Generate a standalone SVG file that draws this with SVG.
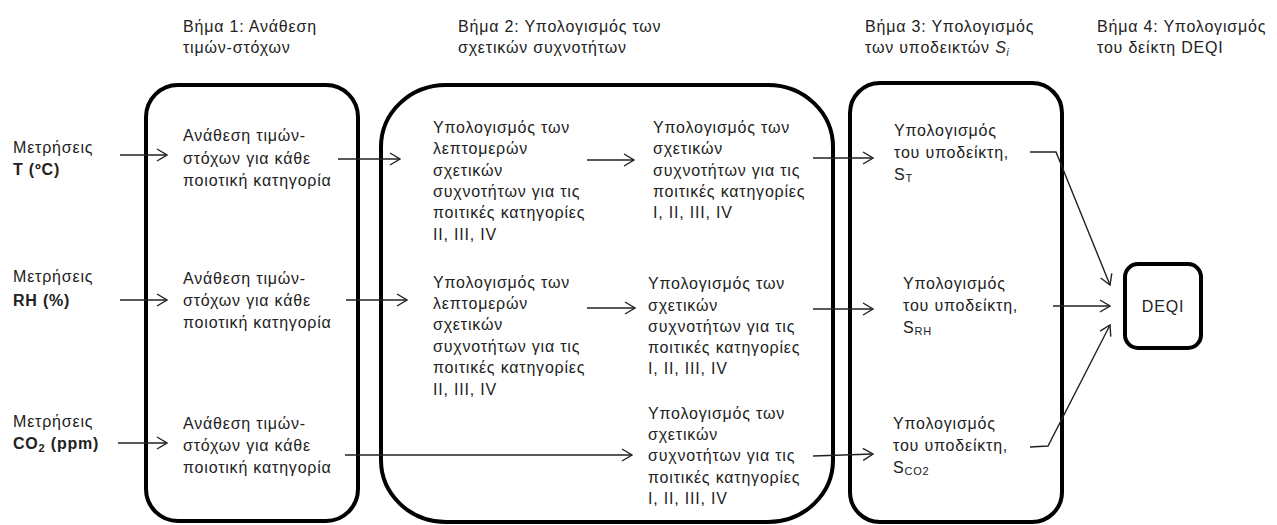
<svg xmlns="http://www.w3.org/2000/svg" width="1277" height="525" viewBox="0 0 1277 525">
<defs>
<marker id="arr" viewBox="-12 -7 13 14" refX="0" refY="0" markerWidth="13" markerHeight="14" markerUnits="userSpaceOnUse" orient="auto">
<path d="M-10,-6 L0,0 L-10,6" fill="none" stroke="#222" stroke-width="1.4"/>
</marker>
<style>
text{font-family:"Liberation Sans",Arial,sans-serif;font-size:16px;letter-spacing:0.8px;fill:#222}
.b{font-weight:bold}
.box{fill:none;stroke:#000;stroke-width:4}
.c{fill:none;stroke:#222;stroke-width:1.4}
.a{marker-end:url(#arr)}
</style>
</defs>
<rect width="1277" height="525" fill="#fff"/>

<g id="headers">
<text x="183" y="32">Βήμα 1: Ανάθεση</text>
<text x="183" y="53">τιμών-στόχων</text>
<text x="458" y="32">Βήμα 2: Υπολογισμός των</text>
<text x="458" y="53">σχετικών συχνοτήτων</text>
<text x="865" y="32">Βήμα 3: Υπολογισμός</text>
<text x="865" y="53">των υποδεικτών <tspan font-style="italic">S</tspan><tspan font-style="italic" font-size="10" dy="3">i</tspan></text>
<text x="1097" y="32">Βήμα 4: Υπολογισμός</text>
<text x="1097" y="53">του δείκτη DEQI</text>
</g>

<g id="inputs">
<text x="13" y="153">Μετρήσεις</text>
<text x="13" y="175" class="b">T (ºC)</text>
<text x="13" y="282">Μετρήσεις</text>
<text x="13" y="306" class="b">RH (%)</text>
<text x="13" y="427">Μετρήσεις</text>
<text x="13" y="449" class="b">CO<tspan font-size="11" dy="3">2</tspan><tspan dy="-3"> (ppm)</tspan></text>
</g>

<g id="step1">
<rect class="box" x="146" y="85" width="212" height="436" rx="32" ry="32"/>
<text x="183" y="141">Ανάθεση τιμών-</text>
<text x="183" y="164">στόχων για κάθε</text>
<text x="183" y="186">ποιοτική κατηγορία</text>
<text x="183" y="284">Ανάθεση τιμών-</text>
<text x="183" y="306">στόχων για κάθε</text>
<text x="183" y="328">ποιοτική κατηγορία</text>
<text x="183" y="429">Ανάθεση τιμών-</text>
<text x="183" y="451">στόχων για κάθε</text>
<text x="183" y="473">ποιοτική κατηγορία</text>
</g>

<g id="step2">
<rect class="box" x="381" y="85" width="452" height="437" rx="65" ry="62"/>
<text x="433" y="133">Υπολογισμός των</text>
<text x="433" y="154">λεπτομερών</text>
<text x="433" y="176">σχετικών</text>
<text x="433" y="197">συχνοτήτων για τις</text>
<text x="433" y="218">ποιτικές κατηγορίες</text>
<text x="433" y="240">II, III, IV</text>
<text x="653" y="133">Υπολογισμός των</text>
<text x="653" y="154">σχετικών</text>
<text x="653" y="176">συχνοτήτων για τις</text>
<text x="653" y="197">ποιτικές κατηγορίες</text>
<text x="653" y="218">I, II, III, IV</text>
<text x="433" y="288">Υπολογισμός των</text>
<text x="433" y="309">λεπτομερών</text>
<text x="433" y="330">σχετικών</text>
<text x="433" y="352">συχνοτήτων για τις</text>
<text x="433" y="373">ποιτικές κατηγορίες</text>
<text x="433" y="395">II, III, IV</text>
<text x="648" y="289">Υπολογισμός των</text>
<text x="648" y="311">σχετικών</text>
<text x="648" y="332">συχνοτήτων για τις</text>
<text x="648" y="353">ποιτικές κατηγορίες</text>
<text x="648" y="374">I, II, III, IV</text>
<text x="648" y="419">Υπολογισμός των</text>
<text x="648" y="440">σχετικών</text>
<text x="648" y="461">συχνοτήτων για τις</text>
<text x="648" y="483">ποιτικές κατηγορίες</text>
<text x="648" y="504">I, II, III, IV</text>
</g>

<g id="step3">
<rect class="box" x="850" y="83" width="212" height="439" rx="30" ry="30"/>
<text x="894" y="136">Υπολογισμός</text>
<text x="894" y="158">του υποδείκτη,</text>
<text x="894" y="180">S<tspan font-size="11" dy="2">T</tspan></text>
<text x="903" y="289">Υπολογισμός</text>
<text x="903" y="311">του υποδείκτη,</text>
<text x="903" y="333">S<tspan font-size="11" dy="2">RH</tspan></text>
<text x="893" y="429">Υπολογισμός</text>
<text x="893" y="451">του υποδείκτη,</text>
<text x="893" y="473">S<tspan font-size="11" dy="2">CO2</tspan></text>
</g>

<g id="deqi">
<rect class="box" x="1125" y="264" width="76" height="84" rx="13" ry="13"/>
<text x="1163" y="312" text-anchor="middle" font-size="17">DEQI</text>
</g>

<g id="connectors">
<line class="c a" x1="120" y1="155" x2="167" y2="155"/>
<line class="c a" x1="338" y1="159" x2="400" y2="159"/>
<line class="c a" x1="587" y1="160" x2="634" y2="160"/>
<line class="c a" x1="813" y1="158" x2="873" y2="158"/>
<polyline class="c a" points="1030,152 1056,152 1110,285"/>

<line class="c a" x1="120" y1="300" x2="167" y2="300"/>
<line class="c a" x1="346" y1="300" x2="407" y2="300"/>
<line class="c a" x1="587" y1="308" x2="635" y2="308"/>
<line class="c a" x1="813" y1="309" x2="873" y2="309"/>
<line class="c a" x1="1053" y1="306" x2="1110" y2="306"/>

<line class="c a" x1="118" y1="443" x2="167" y2="443"/>
<line class="c a" x1="345" y1="455" x2="632" y2="455"/>
<line class="c a" x1="813" y1="456" x2="873" y2="454"/>
<polyline class="c a" points="1030,447 1048,446 1110,325"/>
</g>
</svg>
